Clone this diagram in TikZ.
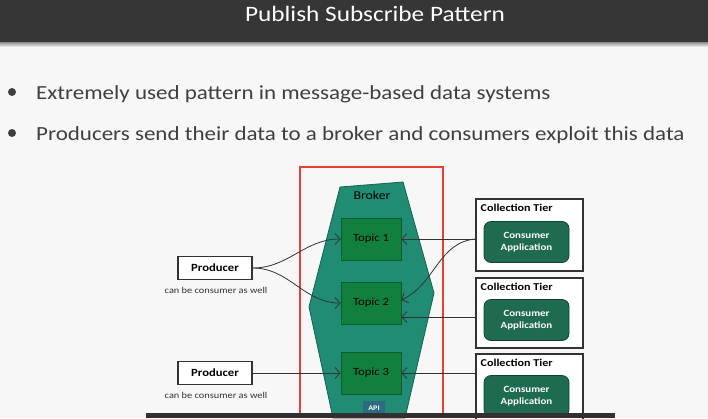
\documentclass[tikz,border=0pt]{standalone}
\usepackage{fontspec}
\setmainfont{Carlito}[FakeStretch=1.15]
\usepackage{tikz}
\usetikzlibrary{arrows.meta}
\usepackage{xcolor}
\definecolor{fond}{HTML}{F7F7F7}
\definecolor{barre}{HTML}{363636}
\definecolor{texte}{HTML}{3F3F3F}
\definecolor{rouge}{HTML}{E5432F}
\definecolor{broker}{HTML}{1F8C73}
\definecolor{brokerbord}{HTML}{17624F}
\definecolor{vert}{HTML}{11803F}
\definecolor{vertbord}{HTML}{0B5C2D}
\definecolor{appli}{HTML}{1E6B50}
\definecolor{applibord}{HTML}{12452F}
\definecolor{bleu}{HTML}{2E6B80}
\definecolor{trait}{HTML}{333333}

\begin{document}
\begin{tikzpicture}[x=1pt,y=1pt]
% Les styles de la diapositive
\tikzstyle{fleche}=[-{Straight Barb[length=5pt,width=11pt]},line width=0.8pt,draw=trait]
\tikzstyle{puce}=[circle,fill=texte,inner sep=0pt,minimum size=8pt]
\tikzstyle{ligne}=[anchor=base west,inner sep=0pt,text=texte,font=\fontsize{20}{24}\selectfont]
\tikzstyle{topic}=[draw=vertbord,fill=vert,line width=0.8pt,minimum width=60pt,minimum height=42pt,font=\fontsize{11}{13}\selectfont]
\tikzstyle{prod}=[draw=trait,fill=white,line width=1.3pt,minimum width=74pt,minimum height=23pt,font=\bfseries\fontsize{11}{13}\selectfont]
\tikzstyle{note}=[text=trait,font=\fontsize{9}{11}\selectfont]
\tikzstyle{tier}=[draw=trait,fill=white,line width=1.1pt,minimum width=107pt]
\tikzstyle{titretier}=[anchor=north west,inner sep=0pt,font=\bfseries\fontsize{10.5}{12}\selectfont]
\tikzstyle{appli}=[draw=applibord,fill=appli,rounded corners=7pt,line width=0.8pt,minimum width=85pt,minimum height=41pt,text=white,align=center,font=\bfseries\fontsize{9.5}{11.5}\selectfont]

\useasboundingbox (0,0) rectangle (708,-418);
\fill[fond] (0,0) rectangle (708,-418);

% Le bandeau du titre
\fill[barre] (0,0) rectangle (708,-42);
\shade[top color=black!45,bottom color=fond] (0,-42) rectangle (708,-47);
\node[anchor=base,text=white,font=\fontsize{22}{26}\selectfont] (titre) at (375,-21) {Publish Subscribe Pattern};

% Les deux puces
\foreach \y/\num/\txt in {99/1/Extremely used pattern in message-based data systems,
                          140/2/Producers send their data to a broker and consumers exploit this data}{
    \node[puce] (puce\num) at (12,-\y+7) {};
    \node[ligne] (ligne\num) at (36,-\y) {\txt};
}

% Le broker dans son cadre rouge
\draw[rouge,line width=1.6pt] (300,-418) -- (300,-167) -- (443,-167) -- (443,-418);
\filldraw[fill=broker,draw=brokerbord,line width=0.8pt] (340,-187) -- (403,-182) -- (434,-293)
    -- (405,-418) -- (333,-418) -- (309,-307) -- cycle;
\node[font=\fontsize{12}{14}\selectfont] (broker) at (372,-195) {Broker};

\foreach \y/\num in {239/1, 303/2, 373/3}{
    \node[topic] (t\num) at (371,-\y) {Topic \num};
}
\node[fill=bleu,text=white,inner sep=0pt,minimum width=22pt,minimum height=14pt,
      font=\bfseries\fontsize{7}{8}\selectfont] (api) at (374,-408) {API};

% Les producteurs
\foreach \y/\num in {268/1, 373/2}{
    \node[prod] (p\num) at (215,-\y) {Producer};
    \node[note] (n\num) at (216,-\y-22) {can be consumer as well};
}

% Les tiers de collecte
\foreach \y/\h/\num in {235/72/1, 313/70/2, 389/70/3}{
    \node[tier,minimum height=\h pt] (tier\num) at (529.5,-\y) {};
    \node[titretier] (col\num) at ([shift={(5pt,-5pt)}]tier\num.north west) {Collection Tier};
    \node[appli] (app\num) at ([shift={(-3pt,-7pt)}]tier\num.center) {Consumer\\Application};
}

% Les flèches vers les topics
\draw[fleche] (p1.east) to[out=0,in=180] (t1.west);
\draw[fleche] (p1.east) to[out=0,in=180] (t2.west);
\draw[fleche] (p2.east) -- (t3.west);
\draw[fleche] (tier1.west |- t1.east) -- (t1.east);
\draw[fleche] (tier1.west |- t1.east) to[out=185,in=25] ([yshift=3pt]t2.east);
\draw[fleche] ([yshift=-4pt]tier2.west) -- ([yshift=-4pt]tier2.west -| t2.east);
\draw[fleche] (tier3.west |- t3.east) -- (t3.east);

% La bande sombre du bas
\fill[barre!90!black] (146,-413) rectangle (615,-418);
\end{tikzpicture}
\end{document}
